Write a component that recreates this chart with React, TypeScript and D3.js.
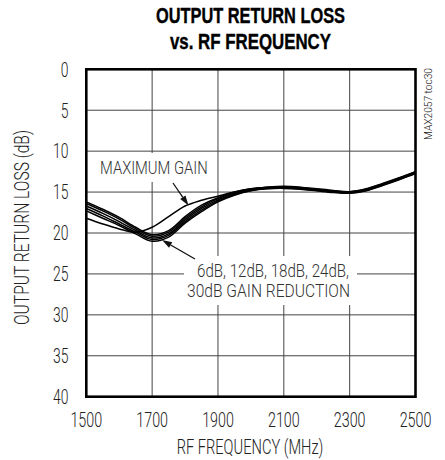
import React from "react";
import * as d3 from "d3";

// ---- data ----
const freqs = [1500, 1550, 1600, 1650, 1700, 1750, 1800, 1850, 1900, 1950, 2000, 2050, 2100, 2150, 2200, 2250, 2300, 2350, 2400, 2450, 2500];
const maxGain = [18.2, 18.9, 19.5, 19.9, 19.3, 18.0, 16.7, 16.0, 15.5, 15.0, 14.6, 14.4, 14.3, 14.4, 14.6, 14.8, 14.95, 14.6, 13.95, 13.25, 12.5];
const gr6 = [16.2, 17.1, 18.1, 19.3, 20.2, 19.7, 18.0, 16.6, 15.7, 15.0, 14.6, 14.4, 14.35, 14.45, 14.65, 14.85, 14.95, 14.65, 14.0, 13.3, 12.5];
const gr12 = [16.4, 17.3, 18.3, 19.5, 20.4, 19.9, 18.2, 16.8, 15.8, 15.1, 14.65, 14.45, 14.4, 14.5, 14.7, 14.9, 15.0, 14.7, 14.05, 13.35, 12.6];
const gr18 = [16.7, 17.6, 18.6, 19.7, 20.6, 20.1, 18.4, 17.0, 15.95, 15.2, 14.7, 14.5, 14.45, 14.55, 14.75, 14.95, 15.05, 14.75, 14.1, 13.4, 12.65];
const gr24 = [17.0, 17.9, 18.9, 19.9, 20.8, 20.3, 18.6, 17.2, 16.1, 15.3, 14.8, 14.55, 14.5, 14.6, 14.8, 15.0, 15.1, 14.8, 14.15, 13.45, 12.7];
const gr30 = [17.3, 18.2, 19.1, 20.1, 21.0, 20.5, 18.8, 17.4, 16.2, 15.4, 14.85, 14.6, 14.55, 14.65, 14.85, 15.05, 15.15, 14.85, 14.2, 13.5, 12.75];
const xTicks = [1500, 1700, 1900, 2100, 2300, 2500];
const yTicks = [0, 5, 10, 15, 20, 25, 30, 35, 40];

const series = [gr30, gr24, gr18, gr12, gr6, maxGain];

const FONT = "Roboto, 'Liberation Sans', Arial, sans-serif";
const TFONT = "'Liberation Sans', Arial, sans-serif";

export default function App() {
  const left = 86.3, right = 415.5, top = 69.3, bottom = 396.7;
  const x = d3.scaleLinear().domain([1500, 2500]).range([left, right]);
  const y = d3.scaleLinear().domain([0, 40]).range([top, bottom]);
  const line = d3
    .line<number>()
    .x((_, i) => x(freqs[i]))
    .y((d) => y(d))
    .curve(d3.curveCatmullRom.alpha(0.5));

  const arrow = (x1: number, y1: number, x2: number, y2: number, key: string) => {
    const ang = Math.atan2(y2 - y1, x2 - x1);
    const L = 10, W = 3.2;
    const bx = x2 - L * Math.cos(ang), by = y2 - L * Math.sin(ang);
    const px = -Math.sin(ang) * W, py = Math.cos(ang) * W;
    return (
      <g key={key}>
        <line x1={x1} y1={y1} x2={bx} y2={by} stroke="#111" strokeWidth={1.3} />
        <path d={`M${x2},${y2}L${bx + px},${by + py}L${bx - px},${by - py}Z`} fill="#111" />
      </g>
    );
  };

  const tp = { fontFamily: FONT, fontWeight: 300, lengthAdjust: "spacingAndGlyphs" as const };

  return (
    <svg width={445} height={460} style={{ position: "absolute", left: 0, top: 0, background: "#fff" }}>
      <rect x={0} y={0} width={445} height={460} fill="#fff" />
      {/* title */}
      <text x={250.5} y={23.3} textAnchor="middle" fontFamily={TFONT} fontWeight={900} fontSize={22.3} textLength={189} lengthAdjust="spacingAndGlyphs" fill="#000" stroke="#000" strokeWidth={0.4}>OUTPUT RETURN LOSS</text>
      <text x={250.5} y={49.3} textAnchor="middle" fontFamily={TFONT} fontWeight={900} fontSize={22.3} textLength={161} lengthAdjust="spacingAndGlyphs" fill="#000" stroke="#000" strokeWidth={0.4}>vs. RF FREQUENCY</text>

      {/* grid */}
      {xTicks.slice(1, -1).map((t) => (
        <line key={"gx" + t} x1={x(t)} x2={x(t)} y1={top} y2={bottom} stroke="#444" strokeWidth={1} />
      ))}
      {yTicks.slice(1, -1).map((t) => (
        <line key={"gy" + t} x1={left} x2={right} y1={y(t)} y2={y(t)} stroke="#444" strokeWidth={1} />
      ))}

      {/* annotation boxes */}
      <rect x={97} y={153} width={113} height={29} fill="#fff" />
      <rect x={184} y={256} width={173} height={49} fill="#fff" />

      {/* curves */}
      {series.map((s, i) => (
        <path key={"s" + i} d={line(s) || ""} fill="none" stroke="#000" strokeWidth={1.5} />
      ))}

      {/* annotations */}
      <text x={100} y={174.3} fontSize={17.7} textLength={107.7} fill="#333" {...tp}>MAXIMUM GAIN</text>
      {arrow(173, 183, 188.5, 205.5, "a1")}
      <text x={197} y={276.7} fontSize={18.5} textLength={152} fill="#333" {...tp}>6dB, 12dB, 18dB, 24dB,</text>
      <text x={187} y={297.3} fontSize={18.5} textLength={163} fill="#333" {...tp}>30dB GAIN REDUCTION</text>
      {arrow(195, 259, 162, 240, "a2")}

      {/* frame */}
      <rect x={left} y={top} width={right - left} height={bottom - top} fill="none" stroke="#000" strokeWidth={2.6} />

      {/* y tick labels */}
      {yTicks.map((t) => (
        <text key={"yl" + t} x={68.5} y={y(t) + 7.3} textAnchor="end" fontSize={20.5} textLength={String(t).length * 7.7} fill="#222" {...tp}>{t}</text>
      ))}
      {/* x tick labels */}
      {xTicks.map((t) => (
        <text key={"xl" + t} x={x(t)} y={426.7} textAnchor="middle" fontSize={20.5} textLength={31.7} fill="#222" {...tp}>{t}</text>
      ))}
      {/* axis titles */}
      <text x={250} y={453.5} textAnchor="middle" fontSize={20.5} textLength={146.7} fill="#222" {...tp}>RF FREQUENCY (MHz)</text>
      <text transform="translate(29.3,227.5) rotate(-90)" textAnchor="middle" fontSize={20} textLength={195} fill="#222" {...tp}>OUTPUT RETURN LOSS (dB)</text>
      <text transform="translate(432,104) rotate(-90)" textAnchor="middle" fontSize={11.5} textLength={72} fill="#222" {...tp}>MAX2057 toc30</text>
    </svg>
  );
}
